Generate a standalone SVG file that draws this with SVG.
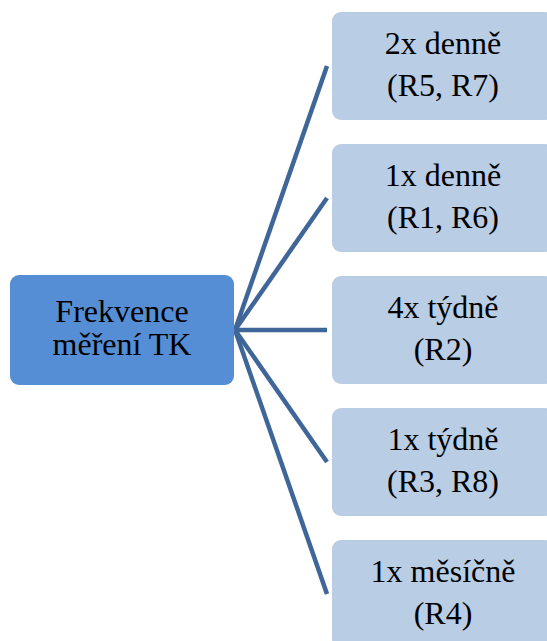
<svg xmlns="http://www.w3.org/2000/svg" width="547" height="641" viewBox="0 0 547 641">
  <style>
    .root { fill: #558ED5; }
    .leaf { fill: #B9CDE5; }
    .lbl { font-family: "Liberation Serif", "Times New Roman", serif; font-size: 32px; fill: #000; text-anchor: middle; }
    .conn { stroke: #3F6698; stroke-width: 4.5; fill: none; stroke-linecap: butt; }
  </style>
  <rect width="547" height="641" fill="#fff"/>
  <g id="connectors">
    <line class="conn" x1="235" y1="330" x2="327" y2="66"/>
    <line class="conn" x1="235" y1="330" x2="327" y2="198"/>
    <line class="conn" x1="235" y1="330" x2="327" y2="330"/>
    <line class="conn" x1="235" y1="330" x2="327" y2="462"/>
    <line class="conn" x1="235" y1="330" x2="327" y2="594"/>
  </g>
  <g id="root">
    <rect class="root" x="10" y="275" width="224" height="110" rx="9"/>
    <text class="lbl" x="122" y="322">Frekvence</text>
    <text class="lbl" x="122" y="355">měření TK</text>
  </g>
  <g id="n1">
    <rect class="leaf" x="332" y="12" width="222" height="108" rx="9"/>
    <text class="lbl" x="443" y="54">2x denně</text>
    <text class="lbl" x="443" y="96">(R5, R7)</text>
  </g>
  <g id="n2">
    <rect class="leaf" x="332" y="144" width="222" height="108" rx="9"/>
    <text class="lbl" x="443" y="186">1x denně</text>
    <text class="lbl" x="443" y="228">(R1, R6)</text>
  </g>
  <g id="n3">
    <rect class="leaf" x="332" y="276" width="222" height="108" rx="9"/>
    <text class="lbl" x="443" y="318">4x týdně</text>
    <text class="lbl" x="443" y="360">(R2)</text>
  </g>
  <g id="n4">
    <rect class="leaf" x="332" y="408" width="222" height="108" rx="9"/>
    <text class="lbl" x="443" y="450">1x týdně</text>
    <text class="lbl" x="443" y="492">(R3, R8)</text>
  </g>
  <g id="n5">
    <rect class="leaf" x="332" y="540" width="222" height="108" rx="9"/>
    <text class="lbl" x="443" y="582">1x měsíčně</text>
    <text class="lbl" x="443" y="624">(R4)</text>
  </g>
</svg>
